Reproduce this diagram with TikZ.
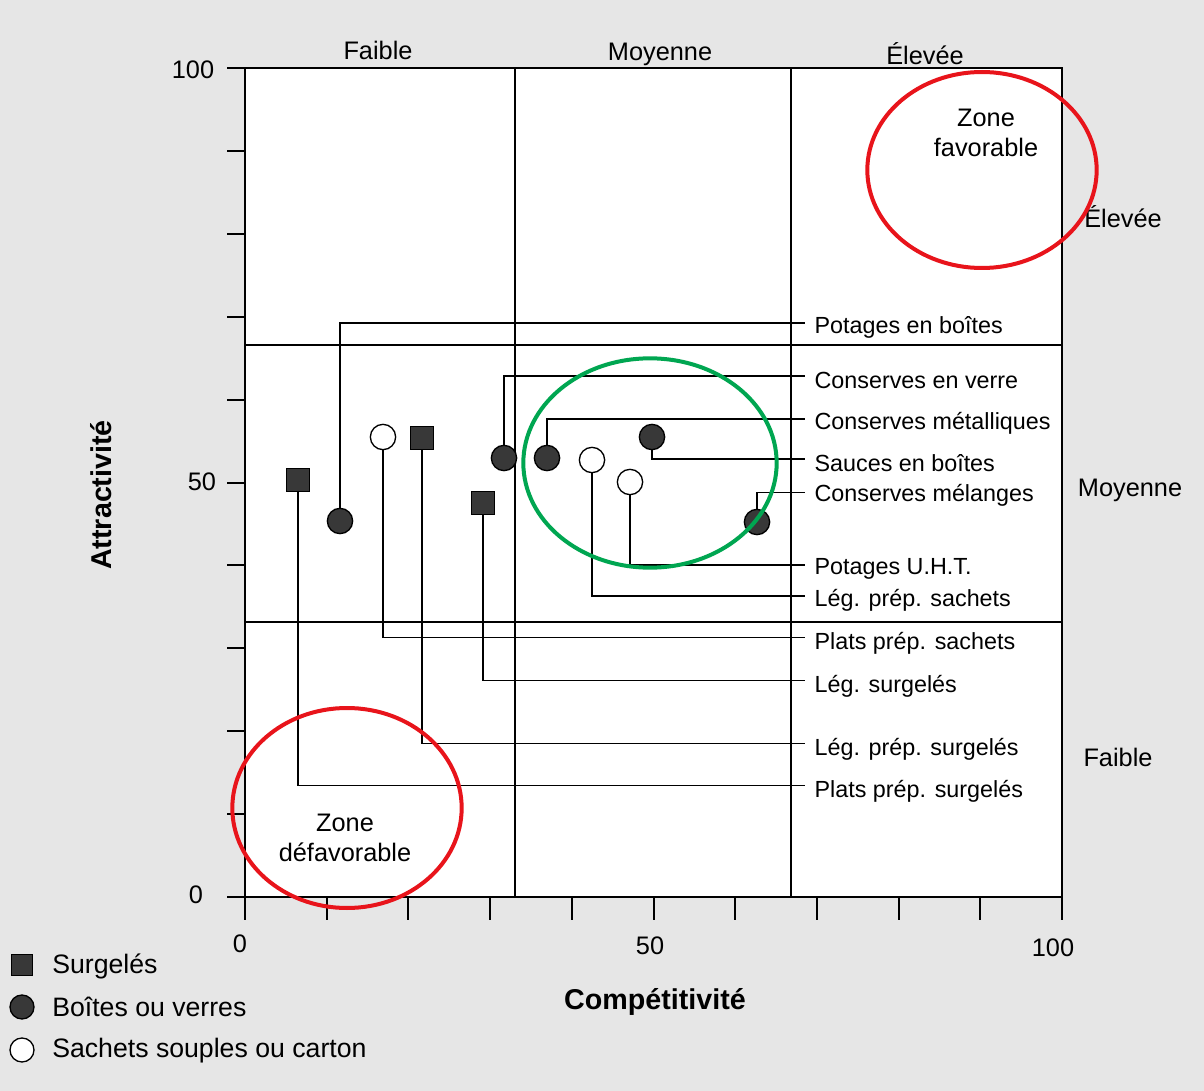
\documentclass[tikz,border=0pt]{standalone}
\usepackage{fontspec}
\setmainfont{Liberation Sans}
\definecolor{zred}{HTML}{E8141B}
\definecolor{zgreen}{HTML}{00A651}
\definecolor{bgpaper}{HTML}{E6E6E6}
\begin{document}
\begin{tikzpicture}[x=0.75pt,y=-0.75pt,
  gridln/.style={line width=1.5pt},
  lead/.style={line width=0.9pt},
  sqm/.style={rectangle, draw=black, fill=black!78, minimum size=17pt, inner sep=0pt, line width=0.8pt},
  fcm/.style={circle, draw=black, fill=black!78, minimum size=19pt, inner sep=0pt, line width=1pt},
  ocm/.style={circle, draw=black, fill=white, minimum size=19pt, inner sep=0pt, line width=1pt},
  lab/.style={anchor=west, inner xsep=7pt, inner ysep=0pt, font=\fontsize{17.5}{20}\selectfont},
  txt/.style={font=\fontsize{19}{22}\selectfont, inner sep=0pt},
  ttl/.style={font=\fontsize{21.5}{24}\selectfont\bfseries, inner sep=0pt},
  zone/.style={line width=3pt}]
\useasboundingbox (0,0) rectangle (1204,1091);
\fill[bgpaper] (0,0) rectangle (1204,1091);
\fill[white] (245,68) rectangle (1062,897);
% grid
\draw[gridln] (245,68) rectangle (1062,897);
\draw[gridln] (515,68) -- (515,897);
\draw[gridln] (791,68) -- (791,897);
\draw[gridln] (245,345) -- (1062,345);
\draw[gridln] (245,622) -- (1062,622);
\foreach \k in {0,...,10} {
  \draw[gridln] (227,{68+82.9*\k}) -- (245,{68+82.9*\k});
  \draw[gridln] ({245+81.7*\k},897) -- ({245+81.7*\k},920);
}
% axis numbers
\node[txt] (y100) at (193,70) {100};
\node[txt] (y50) at (202,482) {50};
\node[txt] (y0) at (196,895) {0};
\node[txt] (x0) at (240,944) {0};
\node[txt] (x50) at (650,946) {50};
\node[txt] (x100) at (1053,948) {100};
% zone headings
\node[txt] (tf) at (378,50) {Faible};
\node[txt] (tm) at (660,54) {Moyenne};
\node[txt] (te) at (925,54) {Élevée};
\node[txt] (re) at (1123,217) {Élevée};
\node[txt] (rm) at (1130,490) {Moyenne};
\node[txt] (rf) at (1118,757) {Faible};
% axis titles
\node[ttl, rotate=90] (ya) at (101,495) {Attractivité};
\node[ttl] (xa) at (655,1002) {Compétitivité};
% markers
\node[sqm] (pps) at (298,480) {};
\node[sqm] (lps) at (422,438) {};
\node[sqm] (ls) at (483,503) {};
\node[fcm] (peb) at (340,521) {};
\node[fcm] (cev) at (504,458) {};
\node[fcm] (cm) at (547,458) {};
\node[fcm] (seb) at (652,437) {};
\node[fcm] (cme) at (757,522) {};
\node[ocm] (ppsa) at (383,437) {};
\node[ocm] (lpsa) at (592,460) {};
\node[ocm] (puht) at (630,482) {};
% labels
\node[lab] (Lpeb) at (805,327) {Potages en boîtes};
\node[lab] (Lcev) at (805,380) {Conserves en verre};
\node[lab] (Lcm) at (805,423) {Conserves métalliques};
\node[lab] (Lseb) at (805,463) {Sauces en boîtes};
\node[lab] (Lcme) at (805,495) {Conserves mélanges};
\node[lab] (Lpuht) at (805,569) {Potages U.H.T.};
\node[lab] (Llpsa) at (805,600) {Lég. prép. sachets};
\node[lab] (Lppsa) at (805,643) {Plats prép. sachets};
\node[lab] (Lls) at (805,686) {Lég. surgelés};
\node[lab] (Llps) at (805,749) {Lég. prép. surgelés};
\node[lab] (Lpps) at (805,791) {Plats prép. surgelés};
% leaders
\draw[lead] (peb) |- ([yshift=3pt]Lpeb.west);
\draw[lead] (cev) |- ([yshift=3pt]Lcev.west);
\draw[lead] (cm) |- ([yshift=3pt]Lcm.west);
\draw[lead] (seb) |- ([yshift=3pt]Lseb.west);
\draw[lead] (cme) |- ([yshift=2pt]Lcme.west);
\draw[lead] (puht) |- ([yshift=3pt]Lpuht.west);
\draw[lead] (lpsa) |- ([yshift=3pt]Llpsa.west);
\draw[lead] (ppsa) |- ([yshift=4pt]Lppsa.west);
\draw[lead] (ls) |- ([yshift=4pt]Lls.west);
\draw[lead] (lps) |- ([yshift=4pt]Llps.west);
\draw[lead] (pps) |- ([yshift=4pt]Lpps.west);
% zones
\draw[zone, zred] (982,170) ellipse [x radius=86pt, y radius=73.5pt];
\draw[zone, zgreen] (650,463) ellipse [x radius=95pt, y radius=78.5pt];
\draw[zone, zred] (347,808) ellipse [x radius=86pt, y radius=75pt];
\node[txt, align=center, font=\fontsize{19}{23}\selectfont] (zf) at (986,133) {Zone\\favorable};
\node[txt, align=center, font=\fontsize{19}{23}\selectfont] (zd) at (345,838) {Zone\\défavorable};
% legend
\node[sqm, minimum size=16pt] (k1) at (22,965) {};
\node[fcm, minimum size=18pt] (k2) at (22,1007) {};
\node[ocm, minimum size=18pt] (k3) at (22,1050) {};
\node[txt, anchor=west, font=\fontsize{20}{22}\selectfont] (t1) at (52,966) {Surgelés};
\node[txt, anchor=west, font=\fontsize{20}{22}\selectfont] (t2) at (52,1007) {Boîtes ou verres};
\node[txt, anchor=west, font=\fontsize{20}{22}\selectfont] (t3) at (52,1051) {Sachets souples ou carton};
\end{tikzpicture}
\end{document}
